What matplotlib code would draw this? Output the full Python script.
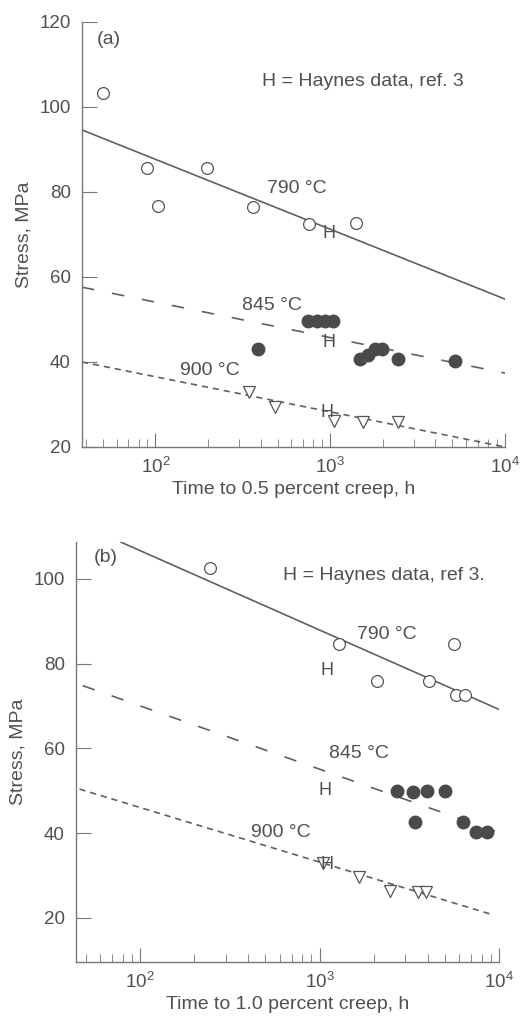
import matplotlib
matplotlib.use("Agg")
import matplotlib.pyplot as plt
from matplotlib.ticker import FixedLocator, LogLocator, NullFormatter

plt.rcParams['font.family'] = ['Liberation Sans', 'DejaVu Sans']
plt.rcParams['mathtext.default'] = 'regular'
plt.rcParams['lines.scale_dashes'] = False

INK = '#505050'
FS = 14

# ---- panel (a): time to 0.5 percent creep ----
a_790_t = [50, 90, 103, 196, 363, 760, 1408]
a_790_s = [103.3, 85.6, 76.7, 85.6, 76.5, 72.5, 72.7]
a_845_t = [388, 748, 843, 936, 1040, 1484, 1650, 1807, 1982, 2450, 5180]
a_845_s = [43.1, 49.6, 49.6, 49.6, 49.6, 40.7, 41.6, 43.1, 43.1, 40.7, 40.2]
a_900_t = [341, 485, 1050, 1550, 2450]
a_900_s = [32.9, 29.4, 26.1, 25.9, 25.9]
a_haynes_t = [980, 980, 960]
a_haynes_s = [70.3, 44.5, 28.2]
a_fit_t = {'790': [38, 10000], '845': [38, 10000], '900': [38, 10000]}
a_fit_s = {'790': [94.6, 54.8], '845': [57.6, 37.4], '900': [40.0, 20.0]}

# ---- panel (b): time to 1.0 percent creep ----
b_790_t = [245, 1276, 2090, 4070, 5630, 5760, 6450]
b_790_s = [102.6, 84.7, 76.0, 76.0, 84.7, 72.7, 72.5]
b_845_t = [2700, 3300, 3980, 5000, 3400, 6300, 7400, 8600]
b_845_s = [49.9, 49.6, 49.9, 49.9, 42.6, 42.6, 40.2, 40.2]
b_900_t = [1050, 1650, 2470, 3550, 3900]
b_900_s = [32.9, 29.6, 26.4, 26.1, 26.1]
b_haynes_t = [1100, 1080, 1100]
b_haynes_s = [78.4, 50.1, 32.5]
b_fit_t = {'790': [78, 10000], '845': [48, 9500], '900': [46, 9300]}
b_fit_s = {'790': [108.7, 69.2], '845': [74.8, 40.5], '900': [50.4, 20.7]}

W, H = 528, 1019
fig = plt.figure(figsize=(W / 100, H / 100), dpi=100)


def setup_axes(ax, xmin, ymin, ymax, yticks, xlabel):
    ax.set_xscale('log')
    ax.set_xlim(xmin, 10000)
    ax.set_ylim(ymin, ymax)
    ax.spines['top'].set_visible(False)
    ax.spines['right'].set_visible(False)
    for s in ('left', 'bottom'):
        ax.spines[s].set_color('#777777')
        ax.spines[s].set_linewidth(1.0)
    ax.xaxis.set_major_locator(FixedLocator([100, 1000, 10000]))
    ax.set_xticklabels(['$10^2$', '$10^3$', '$10^4$'])
    ax.xaxis.set_minor_locator(LogLocator(base=10, subs=range(2, 10)))
    ax.xaxis.set_minor_formatter(NullFormatter())
    ax.set_yticks(yticks)
    ax.tick_params(axis='both', which='both', direction='in', colors='#777777',
                   labelcolor=INK, labelsize=13.5)
    ax.tick_params(axis='x', which='major', length=10, pad=7)
    ax.tick_params(axis='x', which='minor', length=6)
    ax.tick_params(axis='y', which='major', length=11, pad=8)
    ax.set_xlabel(xlabel, fontsize=FS, color=INK, labelpad=3)
    ax.set_ylabel('Stress, MPa', fontsize=FS, color=INK, labelpad=5)


def draw_panel(ax, c790, c845, c900, haynes, fit_t, fit_s):
    ax.plot(fit_t['790'], fit_s['790'], color='#606060', lw=1.2)
    ax.plot(fit_t['845'], fit_s['845'], color='#606060', lw=1.2, dashes=(9, 13))
    ax.plot(fit_t['900'], fit_s['900'], color='#606060', lw=1.2, dashes=(4.5, 3.5))
    ax.plot(*c790, 'o', ms=8.5, mfc='white', mec='#555555', mew=0.9, ls='none')
    ax.plot(*c845, 'o', ms=9, mfc='#4a4a4a', mec='#4a4a4a', ls='none')
    ax.plot(*c900, 'v', ms=9, mfc='white', mec='#555555', mew=0.9, ls='none')
    for t, s in zip(*haynes):
        ax.text(t, s, 'H', ha='center', va='center', fontsize=13, color=INK)


# panel (a)
ax1 = fig.add_axes([82 / W, 1 - 447 / H, 423 / W, 425 / H])
setup_axes(ax1, 38, 20, 120, [20, 40, 60, 80, 100, 120],
           'Time to 0.5 percent creep, h')
draw_panel(ax1, (a_790_t, a_790_s), (a_845_t, a_845_s), (a_900_t, a_900_s),
           (a_haynes_t, a_haynes_s), a_fit_t, a_fit_s)
ax1.text(645, 80.9, '790 °C', ha='center', va='center', fontsize=FS, color=INK)
ax1.text(466, 53.4, '845 °C', ha='center', va='center', fontsize=FS, color=INK)
ax1.text(206, 38.1, '900 °C', ha='center', va='center', fontsize=FS, color=INK)
ax1.text(1545, 106.1, 'H = Haynes data, ref. 3', ha='center', va='center',
         fontsize=FS, color=INK)
ax1.text(0.035, 0.958, '(a)', transform=ax1.transAxes, ha='left', va='center',
         fontsize=FS, color=INK)

# panel (b)
ax2 = fig.add_axes([76 / W, 1 - 962 / H, 423 / W, 420 / H])
setup_axes(ax2, 44, 9.6, 108.7, [20, 40, 60, 80, 100],
           'Time to 1.0 percent creep, h')
draw_panel(ax2, (b_790_t, b_790_s), (b_845_t, b_845_s), (b_900_t, b_900_s),
           (b_haynes_t, b_haynes_s), b_fit_t, b_fit_s)
ax2.text(2385, 86.8, '790 °C', ha='center', va='center', fontsize=FS, color=INK)
ax2.text(1648, 58.8, '845 °C', ha='center', va='center', fontsize=FS, color=INK)
ax2.text(607, 40.2, '900 °C', ha='center', va='center', fontsize=FS, color=INK)
ax2.text(2270, 100.9, 'H = Haynes data, ref 3.', ha='center', va='center',
         fontsize=FS, color=INK)
ax2.text(0.042, 0.962, '(b)', transform=ax2.transAxes, ha='left', va='center',
         fontsize=FS, color=INK)

fig.savefig('out.png', dpi=100, facecolor='white')
